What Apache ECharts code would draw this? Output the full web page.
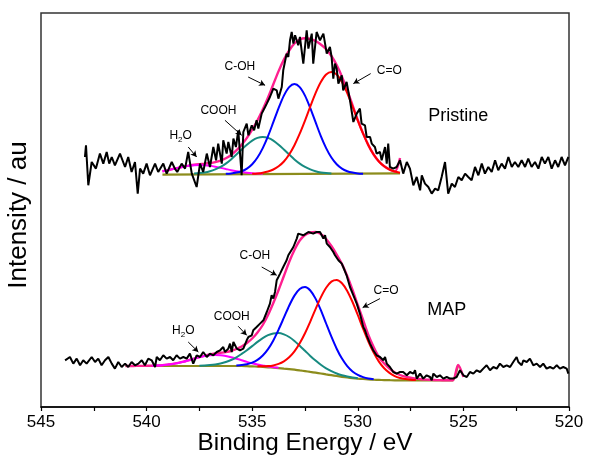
<!DOCTYPE html>
<html>
<head>
<meta charset="utf-8">
<script src="https://cdn.jsdelivr.net/npm/echarts@6/dist/echarts.min.js"></script>
<style>
  html, body { margin: 0; padding: 0; background: #fff; }
  #chart { width: 595px; height: 458px; }
</style>
</head>
<body>
<div id="chart"></div>
<script>
// O 1s XPS spectra: pristine sample (upper trace) and MAP-treated sample (lower trace).
// Energies in eV, intensities in arbitrary units (traces are offset vertically).
const _ = null;
const FONT = "'Liberation Sans', Arial, Helvetica, sans-serif";

// ---- Pristine: measured spectrum [eV, intensity] ----
const pristineRaw = [
  [542.92,250],[542.87,261.7],[542.76,221.7],[542.60,245],[542.40,238.4],[542.21,253.4],[542.05,243.4],[541.89,255],
  [541.77,243.4],[541.65,250],[541.50,241.7],[541.26,253.4],[541.02,240],[540.87,250],[540.71,235],[540.55,245],
  [540.42,213.4],[540.31,238.4],[540.16,233.4],[540.00,243.4],[539.84,231.7],[539.60,243.4],[539.45,235],[539.21,243.4],
  [539.05,233.4],[538.81,245],[538.66,238.4],[538.55,235],[538.34,243.4],[538.18,238.4],[538.03,255],[537.86,233.4],
  [537.63,220],[537.47,243.4],[537.32,235],[537.15,253.4],[537.00,240],[536.84,260],[536.71,246.7],[536.61,263.4],
  [536.44,243.4],[536.37,266.7],[536.21,253.4],[536.13,265],[535.97,250],[535.89,268.4],[535.77,260],[535.66,276.7],
  [535.50,231.7],[535.42,275],[535.26,283.4],[535.18,271.7],[535.02,281.7],[534.91,276.7],[534.79,286.7],[534.71,278.4],
  [534.55,293.4],[534.39,300],[534.31,303.4],[534.16,310],[534.00,318.4],[533.84,316.7],[533.76,308.4],[533.60,320],
  [533.53,336.7],[533.37,353.4],[533.29,350],[533.21,366.7],[533.13,375],[533.05,363.4],[532.97,371.7],[532.82,361.7],
  [532.74,370],[532.58,343.4],[532.42,376.7],[532.34,358.4],[532.18,373.4],[532.11,343.4],[531.95,375],[531.79,366.7],
  [531.63,373.4],[531.47,353.4],[531.32,360],[531.24,350],[531.16,328.4],[531.08,343.4],[531.00,338.4],[530.92,323.4],
  [530.76,331.7],[530.69,316.7],[530.53,325],[530.37,306.7],[530.21,285],[530.05,293.4],[529.90,298.4],[529.82,283.4],
  [529.66,281.7],[529.58,270],[529.42,270],[529.34,263.4],[529.19,260],[529.11,253.4],[528.95,255],[528.87,246.7],
  [528.71,260],[528.63,243.4],[528.56,263.4],[528.48,240],[528.32,238.4],[528.16,240],[528.00,246.7],[527.85,233.4],
  [527.68,245],[527.53,238.4],[527.37,221.7],[527.21,230],[527.05,216.7],[526.97,231.7],[526.82,223.4],[526.66,220],
  [526.50,213.4],[526.34,218.4],[526.19,216.7],[526.03,230],[525.87,245],[525.72,213.4],[525.55,223.4],[525.40,220],
  [525.24,230],[525.08,226.7],[524.92,233.4],[524.77,230],[524.61,226.7],[524.45,240],[524.29,231.7],[524.13,243.4],
  [523.98,233.4],[523.82,240],[523.66,235],[523.50,246.7],[523.35,236.7],[523.19,243.4],[523.03,238.4],[522.87,250],
  [522.71,240],[522.56,245],[522.40,240],[522.24,246.7],[522.08,240],[521.93,248.4],[521.77,240],[521.61,245],
  [521.45,238.4],[521.29,250],[521.14,243.4],[520.98,250],[520.82,238.4],[520.66,246.7],[520.51,240],[520.35,250],
  [520.19,241.7],[520.03,250]
];

// ---- Pristine: peak fit ----
const pristineFitEnergy = [
  539.25,539.0,538.75,538.5,538.25,538.0,537.75,537.5,537.25,537.0,536.75,536.5,536.25,536.0,535.75,535.5,
  535.25,535.0,534.75,534.5,534.25,534.0,533.75,533.5,533.25,533.0,532.75,532.5,532.25,532.0,531.75,531.5,
  531.25,531.0,530.75,530.5,530.25,530.0,529.75,529.5,529.25,529.0,528.75,528.5,528.25,528.0
];
const pristineBaseline = [[539.25,232.3],[528.0,233.6]];
const pristineH2O = [
  235.8,236.8,238.0,239.2,240.3,241.2,241.8,242.0,241.8,241.2,240.3,239.2,238.0,236.8,235.8,235.0,
  234.3,233.8,233.5,233.3,_,_,_,_,_,_,_,_,_,_,_,_,
  _,_,_,_,_,_,_,_,_,_,_,_,_,_
];
const pristineCOOH = [
  _,_,_,_,_,_,233.5,233.9,234.6,235.8,237.6,240.1,243.4,247.6,252.4,257.5,
  262.3,266.4,269.1,270.0,269.1,266.4,262.3,257.5,252.4,247.6,243.4,240.1,237.6,235.8,234.6,233.9,
  233.5,_,_,_,_,_,_,_,_,_,_,_,_,_
];
const pristineCOH = [
  _,_,_,_,_,_,_,_,_,_,_,_,233.3,233.6,234.4,235.8,
  238.4,242.8,249.5,258.9,270.9,284.8,298.9,311.4,319.9,323.0,319.9,311.4,298.9,284.8,270.9,258.9,
  249.5,242.8,238.4,235.8,234.4,233.6,233.3,_,_,_,_,_,_,_
];
const pristineCO = [
  _,_,_,_,_,_,_,_,_,_,_,_,_,_,_,_,
  _,233.3,233.6,234.3,235.5,237.5,240.7,245.5,252.5,261.8,273.3,286.4,300.5,313.9,325.0,332.5,
  335.0,332.5,325.0,313.9,300.5,286.4,273.3,261.8,252.5,245.5,240.7,237.5,235.5,234.3
];
const pristineEnvelope = [
  235.8,236.8,238.1,239.2,240.4,241.4,242.3,242.9,243.4,244.0,244.9,246.4,248.7,252.0,256.6,262.3,
  269.1,277.3,286.7,297.5,309.5,322.7,335.9,347.4,356.5,363.5,367.5,368.8,368.0,366.0,362.5,357.8,
  351.0,342.0,330.4,316.7,301.9,287.0,273.6,261.9,252.5,245.5,240.7,237.5,235.5,249.0
];

// ---- MAP: measured spectrum [eV, intensity] ----
const mapRaw = [
  [543.86,46.7],[543.63,50],[543.47,43.4],[543.31,48.4],[543.15,41.7],[543.00,46.7],[542.84,43.4],[542.60,50],
  [542.44,45],[542.29,48.4],[542.13,41.7],[541.97,46.7],[541.81,50],[541.65,43.4],[541.50,38.4],[541.34,45],
  [541.18,40],[541.02,43.4],[540.87,40],[540.71,45],[540.55,41.7],[540.39,43.4],[540.23,46.7],[540.08,41.7],
  [539.92,48.4],[539.76,46.7],[539.60,40],[539.52,50],[539.37,46.7],[539.21,51.7],[539.05,48.4],[538.89,50],
  [538.74,46.7],[538.58,51.7],[538.42,48.4],[538.26,50],[538.10,48.4],[537.95,53.4],[537.79,43.4],[537.63,51.7],
  [537.47,50],[537.32,55],[537.15,50],[537.00,53.4],[536.84,51.7],[536.68,55],[536.52,56.7],[536.37,60],
  [536.29,55],[536.13,58.4],[536.05,63.4],[535.97,55],[535.89,65],[535.73,58.4],[535.58,56.7],[535.42,58.4],
  [535.26,66.7],[535.18,70],[535.10,68.4],[535.02,71.7],[534.95,76.7],[534.79,80],[534.63,83.4],[534.47,86.7],
  [534.31,95],[534.16,103.4],[534.08,111.7],[534.00,108.4],[533.92,115],[533.84,126.7],[533.76,130],[533.68,133.4],
  [533.53,140],[533.37,146.7],[533.29,151.7],[533.21,150],[533.05,160],[532.97,161.7],[532.89,168.4],[532.82,173.4],
  [532.74,173.4],[532.58,171.7],[532.34,175],[532.11,173.4],[531.95,175],[531.79,175],[531.71,171.7],[531.63,168.4],
  [531.55,171.7],[531.47,163.4],[531.32,160],[531.16,155],[531.08,151.7],[531.00,153.4],[530.92,146.7],[530.84,148.4],
  [530.76,143.4],[530.69,140],[530.61,141.7],[530.53,131.7],[530.37,120],[530.21,111.7],[530.05,103.4],[529.90,93.4],
  [529.74,80],[529.66,76.7],[529.58,71.7],[529.42,63.4],[529.27,56.7],[529.11,51.7],[528.95,50],[528.79,46.7],
  [528.71,50],[528.63,43.4],[528.56,41.7],[528.48,40],[528.32,35],[528.24,36.7],[528.16,33.4],[528.00,35],
  [527.85,35],[527.68,31.7],[527.53,35],[527.37,33.4],[527.29,36.7],[527.21,28.4],[527.05,33.4],[526.90,28.4],
  [526.74,31.7],[526.58,30],[526.50,26.7],[526.42,33.4],[526.26,30],[526.11,31.7],[525.95,28.4],[525.79,30],
  [525.63,28.4],[525.48,28.4],[525.32,30],[525.16,36.7],[525.00,31.7],[524.84,30],[524.69,35],[524.53,33.4],
  [524.37,36.7],[524.21,35],[524.06,38.4],[523.90,41.7],[523.74,36.7],[523.58,40],[523.42,38.4],[523.27,43.4],
  [523.11,40],[522.95,41.7],[522.79,40],[522.64,45],[522.48,50],[522.40,45],[522.24,41.7],[522.16,46.7],
  [522.00,45],[521.85,48.4],[521.69,41.7],[521.53,43.4],[521.37,40],[521.22,43.4],[521.06,38.4],[520.90,40],
  [520.74,38.4],[520.58,41.7],[520.43,38.4],[520.27,40],[520.11,38.4],[520.03,33.4]
];

// ---- MAP: peak fit ----
const mapFitEnergy = [
  541.0,540.75,540.5,540.25,540.0,539.75,539.5,539.25,539.0,538.75,538.5,538.25,538.0,537.75,537.5,537.25,
  537.0,536.75,536.5,536.25,536.0,535.75,535.5,535.25,535.0,534.75,534.5,534.25,534.0,533.75,533.5,533.25,
  533.0,532.75,532.5,532.25,532.0,531.75,531.5,531.25,531.0,530.75,530.5,530.25,530.0,529.75,529.5,529.25,
  529.0,528.75,528.5,528.25,528.0,527.75,527.5,527.25,527.0,526.75,526.5,526.25,526.0,525.75,525.5,525.25,
  525.0
];
const mapBaseline = [
  41.0,41.0,41.0,41.0,41.0,41.0,41.0,41.0,41.0,41.0,41.0,41.0,41.0,41.0,41.0,41.0,
  41.0,41.0,41.0,41.0,41.0,41.0,41.0,40.8,40.6,40.4,40.1,39.7,39.3,38.9,38.4,37.9,
  37.3,36.6,35.9,35.1,34.3,33.5,32.6,31.8,31.0,30.2,29.5,28.9,28.4,28.0,27.6,27.3,
  27.1,26.9,26.8,26.7,26.7,26.7,26.7,26.7,26.7,26.7,26.7,26.7,26.7,26.7,26.7,42.0,
  _
];
const mapH2O = [
  _,_,_,_,_,41.3,41.5,41.8,42.4,43.1,44.1,45.3,46.8,48.3,49.7,50.9,
  51.7,52.0,51.7,50.9,49.7,48.3,46.8,45.1,43.7,42.5,41.5,40.5,39.8,39.2,_,_,
  _,_,_,_,_,_,_,_,_,_,_,_,_,_,_,_,
  _,_,_,_,_,_,_,_,_,_,_,_,_,_,_,_,
  _
];
const mapCOOH = [
  _,_,_,_,_,_,_,_,_,_,_,_,_,_,41.3,41.5,
  41.9,42.5,43.5,45.0,47.0,49.7,53.1,56.8,60.9,65.1,68.9,71.8,73.5,73.9,72.6,70.0,
  66.1,61.3,56.2,51.1,46.4,42.2,38.6,35.8,33.5,31.7,30.4,29.4,28.7,_,_,_,
  _,_,_,_,_,_,_,_,_,_,_,_,_,_,_,_,
  _
];
const mapCOH = [
  _,_,_,_,_,_,_,_,_,_,_,_,_,_,_,_,
  _,_,_,_,_,41.4,41.9,42.7,44.3,47.1,51.5,57.9,66.6,77.4,89.3,101.3,
  111.4,118.0,119.9,116.5,108.4,96.9,83.5,70.3,58.3,48.4,40.9,35.6,32.1,29.9,28.5,27.7,
  _,_,_,_,_,_,_,_,_,_,_,_,_,_,_,_,
  _
];
const mapCO = [
  _,_,_,_,_,_,_,_,_,_,_,_,_,_,_,_,
  _,_,_,_,_,_,_,_,_,40.7,40.7,40.9,41.6,43.1,45.7,49.7,
  55.6,63.7,73.8,85.4,97.9,109.6,119.2,125.4,127.0,123.8,116.1,105.0,92.0,78.3,65.5,54.4,
  45.4,38.7,34.1,30.9,29.0,27.9,27.3,27.0,_,_,_,_,_,_,_,_,
  _
];
const mapEnvelope = [
  41.0,41.0,41.1,41.1,41.2,41.3,41.5,41.8,42.4,43.1,44.1,45.3,46.8,48.3,50.0,51.4,
  52.6,53.5,54.2,54.9,56.0,58.0,60.5,64.0,68.5,74.5,82.0,92.0,104.0,117.0,131.0,145.0,
  157.0,166.5,172.0,174.5,175.0,173.0,168.0,161.0,152.5,143.0,131.0,117.0,102.0,87.0,72.0,60.0,
  50.0,43.5,38.5,34.5,32.0,30.3,29.2,28.4,27.8,27.4,27.1,26.9,26.8,26.7,26.7,42.0,
  30.0
];

// ---- Axis ----
const xTicks = { min: 520, max: 545, step: 5 };

// ---- Annotations: [text, eV, intensity] and arrows [from, to] ----
const peakLabels = [
  ['C-OH', 535.58, 340], ['COOH', 536.6, 296], ['H2O', 538.39, 271.7], ['C=O', 528.51, 336],
  ['C-OH', 534.87, 151.7], ['COOH', 535.97, 90], ['H2O', 538.26, 76.7], ['C=O', 528.66, 116.7]
];
const sampleLabels = [['Pristine', 525.24, 291], ['MAP', 525.79, 97.4]];
const arrows = [
  [[535.19, 330], [534.39, 321.7]], [[536.29, 286.7], [535.50, 271.7]],
  [[538.03, 260], [537.63, 250]], [[529.39, 333.4], [530.21, 323.4]],
  [[534.55, 140], [533.84, 131.7]], [[535.66, 80.7], [535.26, 71.7]],
  [[538.03, 65], [537.55, 55]], [[528.95, 108.4], [529.77, 99.4]]
];

const COLORS = {
  raw: '#000000', envelope: '#ff1f8f', baseline: '#8c8c1c',
  co: '#ff0000', coh: '#0000ff', cooh: '#178a80', h2o: '#ff00ff'
};

function pairs(energies, values) {
  const out = [];
  energies.forEach((e, i) => { if (values[i] != null) out.push([e, values[i]]); });
  return out;
}
function line(name, data, color, width, z, smooth) {
  return {
    name, type: 'line', data, symbol: 'none', z,
    smooth: smooth === undefined ? 0.3 : smooth,
    lineStyle: { color, width }, itemStyle: { color },
    animation: false, silent: true
  };
}
function textSeries(items, style) {
  return {
    type: 'scatter', z: 10, symbol: 'circle', symbolSize: 0, silent: true, animation: false,
    itemStyle: { color: '#000', opacity: 1 },
    data: items.map(([t, e, v]) => ({ value: [e, v], name: t })),
    label: Object.assign({
      show: true, position: 'inside', color: '#000', opacity: 1,
      textBorderWidth: 0, textShadowBlur: 0, fontFamily: FONT
    }, style)
  };
}

const series = [];
// fit traces
[
  [pristineFitEnergy, pristineEnvelope, pristineH2O, pristineCOOH, pristineCOH, pristineCO, pristineBaseline],
  [mapFitEnergy, mapEnvelope, mapH2O, mapCOOH, mapCOH, mapCO, pairs(mapFitEnergy, mapBaseline)]
].forEach(([en, env, h2o, cooh, coh, co, base]) => {
  series.push(line('baseline', base, COLORS.baseline, 2.2, 2, 0.2));
  series.push(line('envelope', pairs(en, env), COLORS.envelope, 2.4, 3));
  series.push(line('H2O', pairs(en, h2o), COLORS.h2o, 2, 4));
  series.push(line('COOH', pairs(en, cooh), COLORS.cooh, 2, 4));
  series.push(line('C-OH', pairs(en, coh), COLORS.coh, 2, 4));
  series.push(line('C=O', pairs(en, co), COLORS.co, 2, 4));
});
// measured spectra on top
series.push(line('Pristine', pristineRaw, COLORS.raw, 2, 6, false));
series.push(line('MAP', mapRaw, COLORS.raw, 2, 6, false));

// annotation text
series.push(textSeries(peakLabels, {
  fontSize: 12,
  formatter: p => p.name === 'H2O' ? '{a|H}{b|2}{a|O}' : '{a|' + p.name + '}',
  rich: {
    a: { fontSize: 12, fontFamily: FONT, color: '#000', lineHeight: 16 },
    b: { fontSize: 8, fontFamily: FONT, color: '#000', lineHeight: 16, verticalAlign: 'bottom', padding: [7, 0, 0, 0] }
  }
}));
series.push(textSeries(sampleLabels, { fontSize: 18, formatter: p => p.name }));
// annotation arrows
series.push({
  type: 'line', data: [], z: 9, silent: true, animation: false,
  markLine: {
    silent: true, animation: false, symbol: ['none', 'arrow'], symbolSize: [5, 6],
    lineStyle: { color: '#000', width: 1, type: 'solid', opacity: 1 },
    label: { show: false },
    emphasis: { disabled: true },
    data: arrows.map(([a, b]) => [{ coord: a }, { coord: b }])
  }
});

const chart = echarts.init(document.getElementById('chart'), null, { renderer: 'canvas' });
chart.setOption({
  animation: false,
  backgroundColor: '#fff',
  grid: {
    left: 41, right: 26, top: 13, bottom: 51, show: true,
    borderColor: '#333', borderWidth: 1.5, backgroundColor: 'transparent',
    containLabel: false, outerBoundsMode: 'none'
  },
  xAxis: {
    type: 'value', inverse: true, min: xTicks.min, max: xTicks.max, interval: xTicks.step,
    name: 'Binding Energy / eV', nameLocation: 'middle', nameGap: 24, nameMoveOverlap: false,
    nameTextStyle: { fontFamily: FONT, fontSize: 24.3, color: '#000' },
    axisLine: { show: true, lineStyle: { color: '#000', width: 1.5 } },
    axisTick: { show: true, inside: false, length: 4, lineStyle: { color: '#000', width: 1.2 } },
    minorTick: { show: true, splitNumber: 2, length: 4, lineStyle: { color: '#000', width: 1.2 } },
    axisLabel: { fontFamily: FONT, fontSize: 17, color: '#000', margin: 7 },
    splitLine: { show: false }
  },
  yAxis: {
    type: 'value', min: 0, max: 394,
    name: 'Intensity / au', nameLocation: 'middle', nameGap: 9, nameRotate: 90, nameMoveOverlap: false,
    nameTextStyle: { fontFamily: FONT, fontSize: 26, color: '#000', padding: [0, 10, 0, 0] },
    axisLine: { show: false }, axisTick: { show: false }, axisLabel: { show: false },
    splitLine: { show: false }
  },
  series
});
</script>
</body>
</html>
